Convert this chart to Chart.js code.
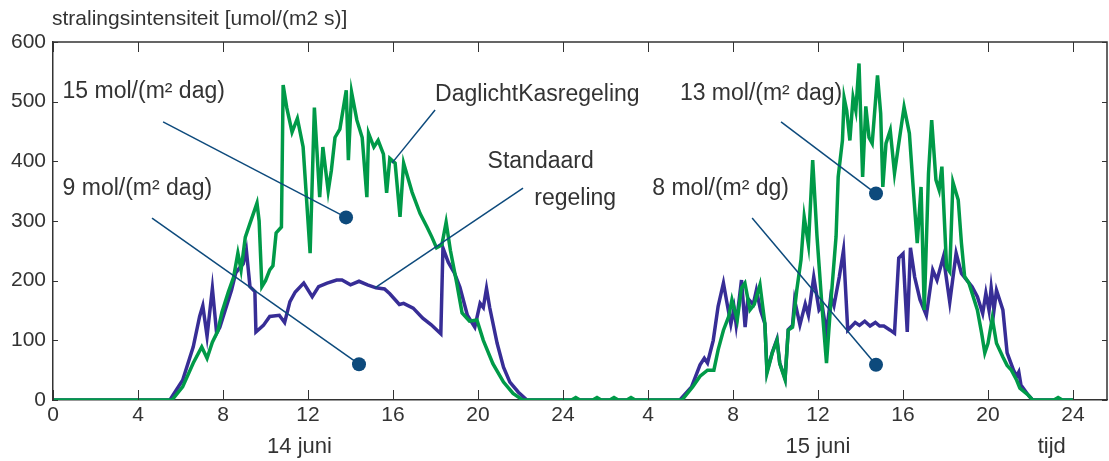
<!DOCTYPE html>
<html lang="nl">
<head>
  <meta charset="UTF-8">
  <script src="https://cdn.jsdelivr.net/npm/chart.js"></script>
  <title>stralingsintensiteit</title>
  <style>
    html, body { margin: 0; padding: 0; background: #fff; }
    #wrap { width: 1109px; height: 461px; position: relative; }
  </style>
</head>
<body>
  <div id="wrap">
    <canvas id="myChart" width="1109" height="461"></canvas>
  </div>

  <script>
    // uren (0-48) en waarden in umol/(m2 s)
    const standaardUren = [0, 5.5, 6.1, 6.6, 6.9, 7.05, 7.25, 7.5, 7.7, 7.85, 8.1, 8.4, 8.6, 8.75, 8.95, 9.1, 9.27, 9.5, 9.55, 9.9,
      10.2, 10.65, 10.9, 11.15, 11.4, 11.8, 12.2, 12.5, 12.9, 13.35, 13.6, 14.0, 14.4, 14.8, 15.2, 15.6, 15.85, 16.3, 16.5, 16.95,
      17.4, 17.8, 18.25, 18.35, 18.6, 18.9, 19.15, 19.5, 19.85, 20.1, 20.25, 20.4, 20.55, 20.9, 21.2, 21.5, 21.9, 22.3,
      29.5, 30.05, 30.45, 30.65, 30.8, 31.07, 31.3, 31.55, 31.7, 31.9, 32.05, 32.15, 32.4, 32.57, 32.7, 32.95, 33.1, 33.3,
      33.5, 33.6, 33.85, 34.07, 34.2, 34.45, 34.6, 34.8, 34.9, 35.15, 35.4, 35.55, 35.8, 36.05, 36.2, 36.4, 36.6, 36.75, 37.0,
      37.2, 37.4, 37.75, 37.95, 38.2, 38.45, 38.7, 38.9, 39.1, 39.4, 39.6, 39.8, 40.0, 40.2, 40.35, 40.55, 40.8, 41.1, 41.4,
      41.6, 41.9, 42.2, 42.5, 42.75, 43.0, 43.25, 43.5, 43.75, 43.9, 44.05, 44.15, 44.28, 44.4, 44.7, 44.9, 45.2, 45.35,
      45.45, 45.55, 45.9, 46.1, 48];
    const standaardWaarden = [0, 0, 33, 89, 140, 158, 107, 187, 112, 122, 150, 184, 213, 220, 228, 251, 190, 182, 114, 125,
      140, 142, 130, 165, 181, 196, 173, 190, 196, 201, 201, 193, 199, 193, 188, 186, 178, 160, 162, 154,
      137, 126, 111, 255, 231, 212, 189, 142, 122, 162, 155, 187, 155, 95, 55, 30, 13, 0,
      0, 22, 59, 70, 62, 100, 157, 196, 166, 127, 154, 126, 201, 122, 170, 160, 184, 150,
      128, 48, 80, 102, 62, 36, 118, 125, 167, 126, 161, 142, 206, 151, 158, 112, 173, 158, 206,
      251, 117, 130, 125, 132, 124, 130, 124, 124, 117, 112, 238, 245, 114, 255, 206, 168, 142, 218,
      201, 240, 164, 246, 212, 201, 190, 173, 145, 179, 150, 188, 150, 184, 151, 79, 50, 40,
      47, 25, 8, 0, 0];

    const daglichtUren = [0, 5.6, 6.1, 6.6, 7.0, 7.25, 7.5, 7.75, 7.95, 8.25, 8.5, 8.7, 8.85, 9.05, 9.27, 9.6, 9.7, 9.83, 10.0,
      10.2, 10.35, 10.5, 10.75, 10.83, 11.0, 11.25, 11.5, 11.77, 12.1, 12.3, 12.55, 12.7, 12.95, 13.1, 13.27, 13.5, 13.8,
      13.9, 14.05, 14.3, 14.55, 14.77, 14.85, 15.1, 15.3, 15.55, 15.7, 15.85, 16.1, 16.33, 16.5, 16.9, 17.27, 17.6, 17.83,
      18.05, 18.3, 18.5, 18.7, 19.0, 19.25, 19.6, 19.95, 20.25, 20.7, 21.2, 21.65, 22.1,
      24.4, 24.6, 24.8, 25.4, 25.6, 25.8, 26.2, 26.4, 26.6, 27.0, 27.2, 27.4, 29.6,
      30.1, 30.45, 30.8, 31.1, 31.3, 31.55, 31.8, 31.95, 32.2, 32.4, 32.56, 32.8, 33.0, 33.27, 33.5, 33.6, 33.85, 34.07,
      34.2, 34.45, 34.6, 34.8, 35.0, 35.2, 35.35, 35.55, 35.75, 35.95, 36.2, 36.4, 36.6, 36.85, 36.95, 37.15, 37.23, 37.35,
      37.5, 37.65, 37.78, 37.93, 38.1, 38.25, 38.4, 38.55, 38.8, 38.95, 39.05, 39.2, 39.4, 39.6, 39.8, 40.05, 40.3, 40.5,
      40.67, 40.85, 41.0, 41.2, 41.35, 41.55, 41.7, 41.83, 42.05, 42.2, 42.35, 42.6, 42.75, 42.9, 43.1, 43.5, 43.7, 43.85,
      44.0, 44.2, 44.4, 44.7, 44.9, 45.1, 45.35, 45.5, 45.9, 46.1, 47.1, 47.3, 47.5, 48];
    const daglichtWaarden = [0, 0, 22, 62, 89, 70, 97, 115, 147, 181, 206, 246, 218, 273, 296, 330, 300, 190, 200,
      218, 225, 280, 290, 528, 490, 449, 472, 424, 246, 490, 340, 424, 350, 385, 440, 454, 519,
      402, 516, 469, 440, 340, 447, 424, 435, 412, 347, 405, 397, 307, 397, 348, 313, 290, 273,
      255, 260, 298, 251, 196, 146, 132, 134, 100, 61, 30, 11, 0,
      0, 4, 0, 0, 4, 0, 0, 4, 0, 0, 4, 0, 0,
      22, 40, 50, 50, 84, 117, 140, 168, 134, 188, 196, 151, 160, 193, 128, 45, 79, 100,
      61, 34, 117, 122, 184, 235, 307, 260, 402, 276, 151, 62, 162, 274, 374, 435, 506, 485,
      435, 507, 485, 564, 374, 492, 440, 430, 544, 480, 357, 430, 452, 380, 430, 491, 447, 346,
      263, 357, 151, 380, 469, 369, 352, 391, 223, 215, 365, 335, 263, 207, 196, 151, 112, 79,
      95, 137, 95, 72, 58, 50, 33, 20, 8, 0, 0, 4, 0, 0];

    const xTickUren = [0, 4, 8, 12, 16, 20, 24, 28, 32, 36, 40, 44, 48];
    const xTickLabels = ['0', '4', '8', '12', '16', '20', '24', '4', '8', '12', '16', '20', '24'];
    const yTicks = [0, 100, 200, 300, 400, 500, 600];

    // teksten bij de figuur, posities in uren / umol
    const dagLabels = [['14 juni', 11.6], ['15 juni', 36.0], ['tijd', 47.0]];
    const notities = [
      { tekst: '15 mol/(m² dag)', x: 0.45, y: 516, van: [5.18, 466], naar: [13.79, 306], dot: true },
      { tekst: '9 mol/(m² dag)', x: 0.45, y: 354, van: [4.66, 305], naar: [14.4, 60], dot: true },
      { tekst: '13 mol/(m² dag)', x: 29.5, y: 513, van: [34.26, 466], naar: [38.73, 346], dot: true },
      { tekst: '8 mol/(m² dg)', x: 28.2, y: 354, van: [32.9, 305], naar: [38.73, 59], dot: true },
      { tekst: 'DaglichtKasregeling', x: 17.98, y: 511, van: [17.98, 486], naar: [15.95, 397], dot: false },
      { tekst: 'Standaard', x: 20.45, y: 399, van: [22.12, 355], naar: [15.15, 188], dot: false },
      { tekst: 'regeling', x: 22.65, y: 337, van: null, naar: null, dot: false }
    ];

    const punten = (uren, waarden) => uren.map((u, i) => ({ x: u, y: waarden[i] }));

    const asKleur = '#333333';
    const notitieKleur = '#0d4a7c';
    const tekstKleur = '#333333';
    const smalFont = '"Liberation Sans Narrow", "Arial Narrow", "Liberation Sans", sans-serif';
    const font = '"Liberation Sans", Arial, sans-serif';

    const kaderPlugin = {
      id: 'kader',
      afterDraw(chart) {
        const ctx = chart.ctx;
        const a = chart.chartArea;
        const xs = chart.scales.x;
        const ys = chart.scales.y;
        ctx.save();
        ctx.strokeStyle = asKleur;
        ctx.lineWidth = 1.5;
        ctx.beginPath();
        ctx.moveTo(a.left, a.top);
        ctx.lineTo(a.right, a.top);
        ctx.lineTo(a.right, a.bottom);
        ctx.stroke();
        // naar binnen wijzende streepjes
        ctx.lineWidth = 1;
        ctx.beginPath();
        xTickUren.forEach(u => {
          const px = Math.round(xs.getPixelForValue(u)) + 0.5;
          ctx.moveTo(px, a.bottom); ctx.lineTo(px, a.bottom - 10);
          ctx.moveTo(px, a.top); ctx.lineTo(px, a.top + 10);
        });
        yTicks.forEach(v => {
          const py = Math.round(ys.getPixelForValue(v)) + 0.5;
          ctx.moveTo(a.left, py); ctx.lineTo(a.left + 5, py);
          ctx.moveTo(a.right, py); ctx.lineTo(a.right - 5, py);
        });
        ctx.stroke();

        // aslabel
        ctx.fillStyle = tekstKleur;
        ctx.font = '21px ' + font;
        ctx.textAlign = 'left';
        ctx.textBaseline = 'middle';
        ctx.fillText('stralingsintensiteit [umol/(m2 s)]', 52, 19);

        ctx.font = '22px ' + smalFont;
        ctx.textAlign = 'center';
        dagLabels.forEach(([t, u]) => {
          ctx.fillText(t, xs.getPixelForValue(u), 447);
        });

        // notities met lijnen en stippen
        notities.forEach(n => {
          if (n.van) {
            ctx.strokeStyle = notitieKleur;
            ctx.lineWidth = 1.5;
            ctx.beginPath();
            ctx.moveTo(xs.getPixelForValue(n.van[0]), ys.getPixelForValue(n.van[1]));
            ctx.lineTo(xs.getPixelForValue(n.naar[0]), ys.getPixelForValue(n.naar[1]));
            ctx.stroke();
          }
          if (n.dot) {
            ctx.fillStyle = notitieKleur;
            ctx.beginPath();
            ctx.arc(xs.getPixelForValue(n.naar[0]), ys.getPixelForValue(n.naar[1]), 7, 0, Math.PI * 2);
            ctx.fill();
          }
          ctx.fillStyle = tekstKleur;
          ctx.font = '23px ' + font;
          ctx.textAlign = 'left';
          ctx.fillText(n.tekst, xs.getPixelForValue(n.x), ys.getPixelForValue(n.y));
        });
        ctx.restore();
      }
    };

    const ctx = document.getElementById('myChart');
    const myChart = new Chart(ctx, {
      type: 'line',
      data: {
        datasets: [{
          label: 'DaglichtKasregeling',
          data: punten(daglichtUren, daglichtWaarden),
          borderColor: 'rgb(0, 154, 72)',
          borderWidth: 3.5,
          pointRadius: 0,
          tension: 0,
          fill: false,
          order: 1
        }, {
          label: 'Standaard regeling',
          data: punten(standaardUren, standaardWaarden),
          borderColor: 'rgb(55, 45, 150)',
          borderWidth: 3.5,
          pointRadius: 0,
          tension: 0,
          fill: false,
          order: 2
        }]
      },
      options: {
        responsive: false,
        animation: false,
        layout: { padding: { top: 42, right: 2, left: 0, bottom: 0 } },
        plugins: {
          legend: { display: false },
          tooltip: { enabled: false }
        },
        scales: {
          x: {
            type: 'linear',
            min: 0,
            max: 49.6,
            afterBuildTicks: s => { s.ticks = xTickUren.map(v => ({ value: v })); },
            afterFit: s => { s.height = 61; },
            grid: { display: false, drawTicks: false },
            border: { color: asKleur, width: 1.5 },
            ticks: {
              autoSkip: false,
              maxRotation: 0,
              padding: 3,
              color: tekstKleur,
              font: { family: smalFont, size: 21 },
              callback: (v, i) => xTickLabels[i]
            }
          },
          y: {
            min: 0,
            max: 600,
            afterBuildTicks: s => { s.ticks = yTicks.map(v => ({ value: v })); },
            afterFit: s => { s.width = 53; },
            grid: { display: false, drawTicks: false },
            border: { color: asKleur, width: 1.5 },
            ticks: {
              padding: 7,
              color: tekstKleur,
              font: { family: smalFont, size: 21 }
            }
          }
        }
      },
      plugins: [kaderPlugin]
    });
  </script>
</body>
</html>
